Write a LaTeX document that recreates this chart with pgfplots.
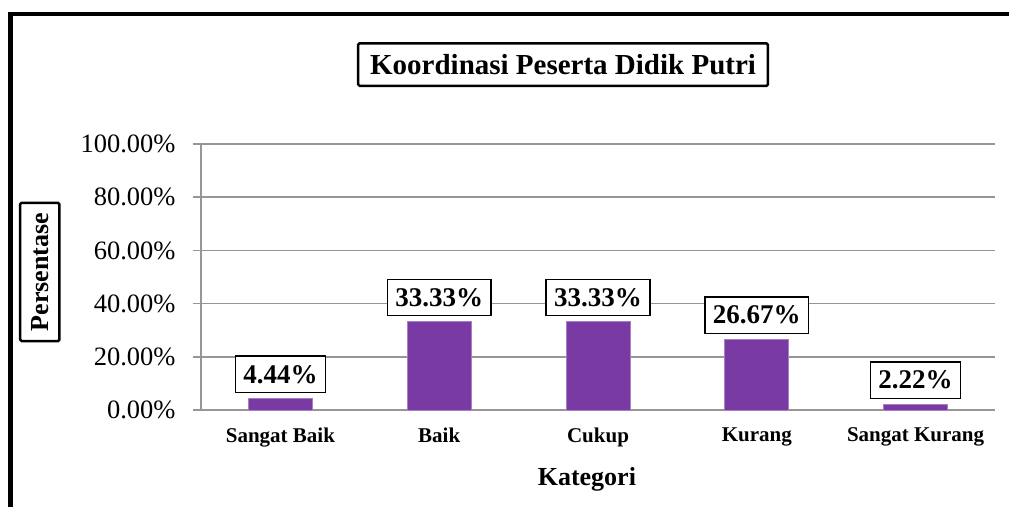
\documentclass[border=0pt]{standalone}
\usepackage{fontspec}
\setmainfont{Liberation Serif}
\usepackage{pgfplots}
\pgfplotsset{compat=1.18}

\definecolor{barpurple}{RGB}{122,58,164}
\definecolor{gridgray}{RGB}{150,150,150}

\begin{document}
\begin{tikzpicture}
\path[use as bounding box] (0,0) rectangle (1009pt,507pt);
% outer frame (left and top edges only visible)
\draw[line width=4.5pt] (10.5pt,0) -- (10.5pt,493pt) -- (1009pt,493pt);
\begin{axis}[
    at={(201pt,97pt)}, anchor=south west,
    scale only axis,
    width=794pt, height=266pt,
    ybar, bar width=64pt,
    xmin=-0.5, xmax=4.5,
    ymin=0, ymax=100,
    xtick={0,...,4},
    xticklabels={Sangat Baik,Baik,Cukup,Kurang,Sangat Kurang},
    ytick={0,20,...,100},
    yticklabel={\pgfmathprintnumber[fixed,fixed zerofill,precision=2]{\tick}\%},
    /pgf/number format/assume math mode=true,
    axis x line*=bottom, axis y line*=left,
    axis line style={draw=gridgray, line width=1.6pt, -},
    ymajorgrids, grid style={draw=gridgray, line width=1.6pt},
    tick align=outside,
    major tick length=8pt,
    y tick style={draw=gridgray, line width=1.6pt},
    x tick style={draw=none},
    yticklabel style={font=\fontsize{26.5}{30}\selectfont, xshift=-14pt},
    xticklabel style={font=\fontsize{21}{24}\selectfont\bfseries, yshift=-6pt},
    title={Koordinasi Peserta Didik Putri},
    title style={at={(axis description cs:0.456,1.276)}, anchor=center,
        draw=black, line width=2.5pt, rounded corners=1.5pt, fill=white,
        font=\fontsize{29}{34}\selectfont\bfseries, inner xsep=12pt, inner ysep=11pt},
    xlabel={Kategori},
    xlabel style={at={(axis description cs:0.486,-0.26)}, anchor=center,
        font=\fontsize{26}{30}\selectfont\bfseries},
    ylabel={Persentase},
    ylabel style={at={(axis description cs:-0.203,0.519)}, anchor=center, rotate=0,
        draw=black, line width=2.5pt, rounded corners=1.5pt, fill=white,
        font=\fontsize{26}{30}\selectfont\bfseries, inner xsep=10pt, inner ysep=11pt},
    nodes near coords={\pgfmathprintnumber[fixed,fixed zerofill,precision=2]{\pgfplotspointmeta}\%},
    nodes near coords style={font=\fontsize{27}{30}\selectfont\bfseries,
        draw=black, line width=1.5pt, fill=white, anchor=south, yshift=5pt,
        inner xsep=8pt, inner ysep=9pt,
        /pgf/number format/assume math mode=true},
]
\addplot[fill=barpurple, draw=barpurple!65!white, line width=1pt] coordinates {
    (0,4.44) (1,33.33) (2,33.33) (3,26.67) (4,2.22)};
\end{axis}
\end{tikzpicture}
\end{document}
